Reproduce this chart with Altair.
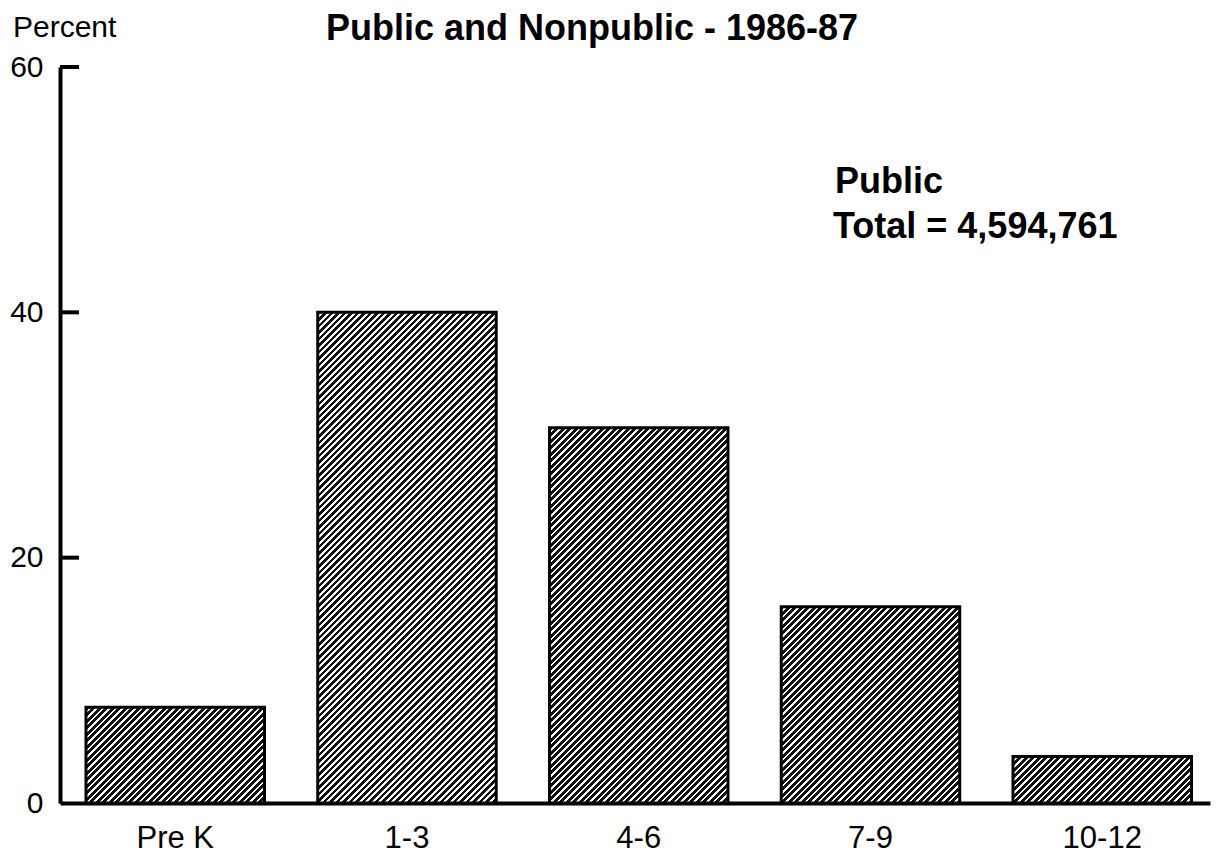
import altair as alt
import pandas as pd

# ---- data ----
grades = ["Pre K", "1-3", "4-6", "7-9", "10-12"]
percents = [7.8, 40.0, 30.6, 16.0, 3.8]
tick_values = [20, 40, 60]
axis_values = [0, 20, 40, 60]
title_text = "Public and Nonpublic - 1986-87"
note_lines = ["Public", "Total = 4,594,761"]

df = pd.DataFrame({"grade": grades, "percent": percents})

# ---- layout / style ----
W_PLOT, H_PLOT = 1150, 736
PI, PO, ALIGN = 0.2298, 0.096, 0.584
Y_MAX = 60
step = W_PLOT / (len(grades) - PI + 2 * PO)
bw = step * (1 - PI)
FONT = "Liberation Sans"


def hatch(h_px, period=6.5, dark_frac=0.6, dark="#111111", light="#ffffff"):
    W, H = bw, max(h_px, 1.0)
    k = (W + H) / (W * W + H * H)
    p = period / (W + H)
    d = dark_frac * p
    stops = []
    t = 0.0
    while t < 1:
        a = min(t + d, 1.0)
        b = min(t + p, 1.0)
        stops += [(t, dark), (a, dark), (a, light), (b, light)]
        t += p
    return alt.LinearGradient(
        gradient="linear", x1=0, y1=0, x2=round(W * k, 5), y2=round(H * k, 5),
        stops=[alt.GradientStop(offset=round(o, 5), color=c) for o, c in stops],
    )


xscale = alt.Scale(domain=grades, paddingInner=PI, paddingOuter=PO, align=ALIGN)
yscale = alt.Scale(domain=[0, Y_MAX], nice=False, zero=True)

x_axis = alt.Axis(title=None, ticks=False, labelAngle=0, labelFont=FONT,
                  labelFontSize=31, labelColor="black", labelPadding=44,
                  labelBaseline="alphabetic", domainColor="black",
                  domainWidth=4, grid=False)
y_axis = alt.Axis(title=None, values=axis_values, ticks=False, grid=False,
                  labelFont=FONT, labelFontSize=30, labelColor="black",
                  labelPadding=17, labelBaseline="middle",
                  domainColor="black", domainWidth=4)

x_enc = alt.X("grade:N", sort=grades, scale=xscale, axis=x_axis)
y_enc = alt.Y("percent:Q", scale=yscale, axis=y_axis)

layers = []
for g, v in zip(grades, percents):
    h_px = v / Y_MAX * H_PLOT
    layers.append(
        alt.Chart(df)
        .transform_filter(alt.datum.grade == g)
        .mark_bar(fill=hatch(h_px), stroke="black", strokeWidth=3)
        .encode(x=x_enc, y=y_enc)
    )

ticks = (
    alt.Chart(pd.DataFrame({"percent": tick_values}))
    .mark_rule(color="black", strokeWidth=4)
    .encode(y=y_enc, x=alt.value(0), x2=alt.value(19))
)

one = pd.DataFrame({"a": [0]})


def label(text, x, y, size, weight="normal"):
    return (
        alt.Chart(one)
        .mark_text(font=FONT, fontSize=size, fontWeight=weight, align="left",
                   baseline="alphabetic", color="black")
        .encode(x=alt.value(x), y=alt.value(y), text=alt.value(text))
    )


title = label(title_text, 266, -27, 36, "bold")
percent_lbl = label("Percent", -47, -30, 30)
note1 = label(note_lines[0], 775, 126, 36, "bold")
note2 = label(note_lines[1], 773, 171, 36, "bold")

chart = (
    alt.layer(*layers, ticks, title, percent_lbl, note1, note2)
    .properties(width=W_PLOT, height=H_PLOT,
                background="white",
                autosize=alt.AutoSizeParams(type="none"),
                padding={"left": 52, "top": 59, "right": 2, "bottom": 52})
    .configure_view(strokeWidth=0)
)

chart.save("out.html", embed_options={"renderer": "svg", "actions": False})
